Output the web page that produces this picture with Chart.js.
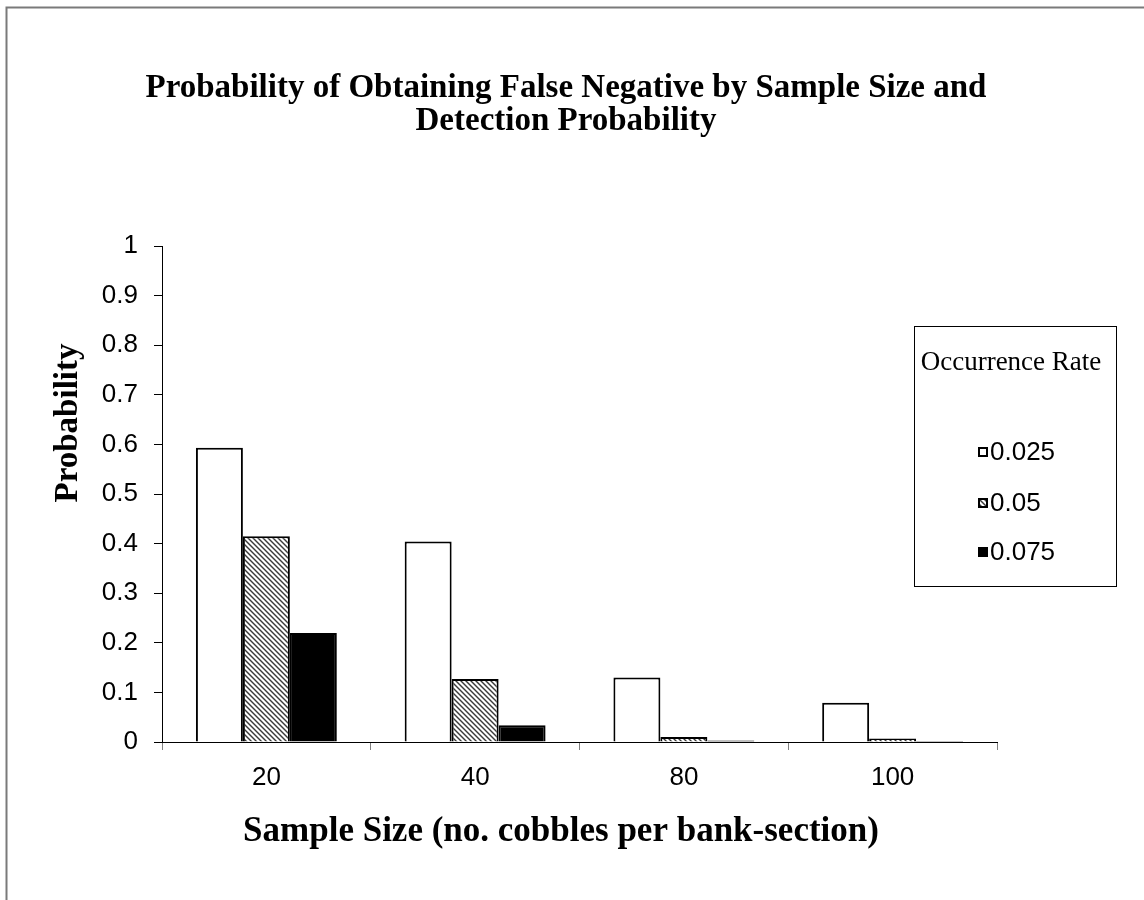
<!DOCTYPE html>
<html><head><meta charset="utf-8">
<script src="https://cdn.jsdelivr.net/npm/chart.js@4"></script>
<style>html,body{margin:0;padding:0;background:#fff}</style>
</head><body>
<canvas id="c" width="1144" height="900" style="display:block;width:1144px;height:900px"></canvas>
<script>
// ---- data ----
const categories = ['20', '40', '80', '100'];
const seriesNames = ['0.025', '0.05', '0.075'];
const rate0025 = [0.593, 0.404, 0.130, 0.079];
const rate005 = [0.415, 0.127, 0.010, 0.007];
const rate0075 = [0.220, 0.034, 0.003, 0.002];
const yTicks = [0, 0.1, 0.2, 0.3, 0.4, 0.5, 0.6, 0.7, 0.8, 0.9, 1];
const titleLines = ['Probability of Obtaining False Negative by Sample Size and', 'Detection Probability'];
const xTitle = 'Sample Size (no. cobbles per bank-section)';
const yTitle = 'Probability';
const legendTitle = 'Occurrence Rate';

// ---- hatch pattern ----
function makeHatch() {
  const t = document.createElement('canvas');
  t.width = 5; t.height = 5;
  const g = t.getContext('2d');
  g.fillStyle = '#fff'; g.fillRect(0, 0, 5, 5);
  g.strokeStyle = '#3a3a3a'; g.lineWidth = 1.4;
  for (let k = -1; k <= 1; k++) {
    g.beginPath(); g.moveTo(k * 5 - 1, -1); g.lineTo(k * 5 + 6, 6); g.stroke();
  }
  return g.createPattern(t, 'repeat');
}
const ctx0 = document.getElementById('c').getContext('2d');
const hatch = makeHatch();
const fills = ['#ffffff', hatch, '#000000'];

const serif = '"Liberation Serif", "Times New Roman", serif';
const sans = '"Liberation Sans", Arial, sans-serif';

const decor = {
  id: 'decor',
  beforeDraw(chart) {
    const c = chart.ctx;
    c.save();
    c.fillStyle = '#fff'; c.fillRect(0, 0, chart.width, chart.height);
    c.strokeStyle = '#7a7a7a'; c.lineWidth = 2;
    c.beginPath(); c.moveTo(6.5, 900); c.lineTo(6.5, 7.5); c.lineTo(1144, 7.5); c.stroke();
    c.restore();
  },
  afterDraw(chart) {
    const c = chart.ctx;
    c.save();
    c.fillStyle = '#000';
    c.textAlign = 'center'; c.textBaseline = 'middle';
    c.font = 'bold 33px ' + serif;
    c.fillText(titleLines[0], 566, 88);
    c.fillText(titleLines[1], 566, 121);
    c.font = 'bold 35px ' + serif;
    c.fillText(xTitle, 561, 832);
    c.font = 'bold 33px ' + serif;
    c.save();
    c.translate(68, 423); c.rotate(-Math.PI / 2);
    c.fillText(yTitle, 0, 0);
    c.restore();
    // legend box
    const L = 914, T = 326, R = 1117, B = 587;
    c.fillStyle = '#fff'; c.fillRect(L, T, R - L, B - T);
    c.strokeStyle = '#000'; c.lineWidth = 1;
    c.strokeRect(L + 0.5, T + 0.5, R - L - 1, B - T - 1);
    c.fillStyle = '#000';
    c.font = '27px ' + serif;
    c.fillText(legendTitle, 1011, 363);
    const ys = [452, 503, 552];
    c.font = '26px ' + sans;
    c.textAlign = 'left';
    chart.data.datasets.forEach((ds, i) => {
      c.fillStyle = ds.backgroundColor;
      c.fillRect(978, ys[i] - 5, 10, 10);
      c.strokeStyle = '#000'; c.lineWidth = 2;
      c.strokeRect(979, ys[i] - 4, 8, 8);
      c.fillStyle = '#000';
      c.fillText(ds.label, 990, ys[i] + 1);
    });
    c.restore();
  }
};

new Chart(ctx0, {
  type: 'bar',
  data: {
    labels: categories,
    datasets: [
      { label: seriesNames[0], data: rate0025, backgroundColor: fills[0] },
      { label: seriesNames[1], data: rate005, backgroundColor: fills[1] },
      { label: seriesNames[2], data: rate0075, backgroundColor: fills[2] }
    ].map(d => Object.assign(d, { borderColor: '#000', borderWidth: 2, categoryPercentage: 0.675, barPercentage: 1 }))
  },
  options: {
    responsive: false,
    animation: false,
    devicePixelRatio: 1,
    layout: { padding: { top: 246, right: 147, left: 0, bottom: 0 } },
    plugins: { legend: { display: false }, title: { display: false }, tooltip: { enabled: false } },
    scales: {
      x: {
        offset: true,
        grid: { display: true, drawOnChartArea: false, offset: true, tickLength: 8, color: '#808080', lineWidth: 1 },
        border: { display: true, color: '#000', width: 1 },
        ticks: { color: '#000', font: { family: sans, size: 26 }, padding: 12 },
        afterFit: s => { s.height = 158; }
      },
      y: {
        min: 0, max: 1,
        afterBuildTicks: s => { s.ticks = yTicks.map(v => ({ value: v })); },
        grid: { display: true, drawOnChartArea: false, tickLength: 8, color: '#000', lineWidth: 1 },
        border: { display: true, color: '#000', width: 1 },
        ticks: { color: '#000', font: { family: sans, size: 26 }, padding: 16, callback: v => String(Math.round(v * 10) / 10) },
        afterFit: s => { s.width = 162; }
      }
    }
  },
  plugins: [decor]
});
</script>
</body></html>
